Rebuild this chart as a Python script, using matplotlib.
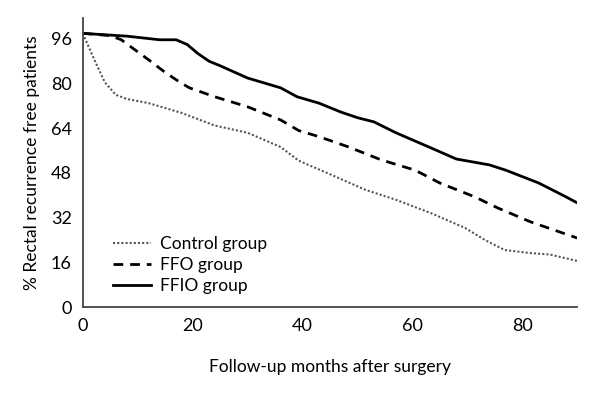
import matplotlib.pyplot as plt

months_ffio = [0, 8, 14, 17, 19, 21, 23, 25, 30, 36, 39, 43, 47, 50, 53, 57, 63, 68, 74, 77, 83, 88, 90]
ffio = [98, 97, 95.7, 95.7, 94, 90.7, 88, 86.4, 82, 78.5, 75.3, 73, 69.8, 67.8, 66.3, 62.4, 57.3, 53, 50.9, 49, 44.4, 39.4, 37.3]

months_ffo = [0, 5, 7, 12, 15, 17.6, 19.4, 24, 30, 36, 39.3, 43, 48.4, 54.3, 60.5, 65, 71.4, 75.5, 81.5, 90]
ffo = [98, 97.2, 95.7, 88.5, 84, 80.6, 78.5, 75.3, 71.7, 67, 63.2, 61, 57.3, 52.7, 49, 44.4, 39.4, 35.5, 30.5, 24.7]

months_ctrl = [0, 2, 4, 6, 8, 12, 18, 24, 30, 36, 39.3, 45.3, 51.4, 57, 63.4, 69.6, 73.2, 76.8, 81.5, 85, 90]
ctrl = [98, 89, 80.5, 76, 74.5, 73, 69.5, 65, 62.4, 57.3, 52.4, 47.3, 42, 38.4, 33.6, 28.3, 24, 20.4, 19.3, 18.8, 16.5]

plt.rcParams['font.family'] = ['Lato', 'DejaVu Sans']

fig = plt.figure(figsize=(6, 4), dpi=100)
ax = fig.add_axes([0.138, 0.2325, 0.824, 0.7225])

ax.plot(months_ctrl, ctrl, color='#555555', linestyle=(0, (1, 1)), linewidth=1.5, label='Control group')
ax.plot(months_ffo, ffo, color='black', linestyle=(0, (3.5, 2.5)), linewidth=2, label='FFO group')
ax.plot(months_ffio, ffio, color='black', linestyle='-', linewidth=2, label='FFIO group')

ax.set_xlim(0, 90)
ax.set_ylim(0, 103.5)
ax.set_xticks([0, 20, 40, 60, 80])
ax.set_yticks([0, 16, 32, 48, 64, 80, 96])
ax.tick_params(length=0, labelsize=13, pad=8)
for s in ['top', 'right']:
    ax.spines[s].set_visible(False)
for s in ['left', 'bottom']:
    ax.spines[s].set_color('#444444')
    ax.spines[s].set_linewidth(1.3)

ax.set_xlabel('Follow-up months after surgery', fontsize=12.5, labelpad=18)
ax.set_ylabel('% Rectal recurrence free patients', fontsize=12.5, labelpad=8)

ax.legend(loc='lower left', bbox_to_anchor=(0.03, -0.01), frameon=False, fontsize=12.5,
          handlelength=2.2, handletextpad=0.5, labelspacing=0.3)

plt.savefig('out.png')
